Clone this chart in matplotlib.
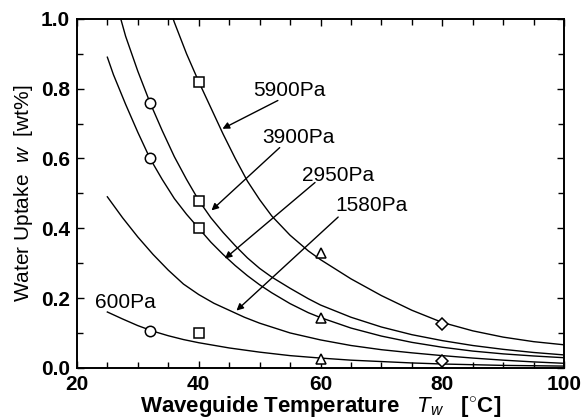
import matplotlib
matplotlib.use("Agg")
import matplotlib.pyplot as plt
from matplotlib.ticker import MultipleLocator

plt.rcParams["font.family"] = ["Liberation Sans", "DejaVu Sans"]
plt.rcParams["mathtext.fontset"] = "custom"
plt.rcParams["mathtext.it"] = "Liberation Sans:italic"
plt.rcParams["mathtext.rm"] = "Liberation Sans"

# fitted curves (T in degC, w in wt%)
temp_5900 = [35.8, 36, 38, 40, 42, 44, 46, 48, 50, 52, 55, 58, 60, 65, 70, 75, 80, 85, 90, 95, 100]
w_5900 = [1.0, 0.99, 0.90, 0.82, 0.745, 0.67, 0.60, 0.535, 0.482, 0.435, 0.38, 0.335, 0.31,
          0.255, 0.207, 0.165, 0.130, 0.106, 0.088, 0.075, 0.066]

temp_3900 = [27.2, 28, 30, 32, 34, 36, 38, 40, 42, 44, 46, 48, 50, 52, 55, 58, 60, 65, 70, 75,
             80, 85, 90, 95, 100]
w_3900 = [1.0, 0.95, 0.85, 0.76, 0.68, 0.605, 0.54, 0.48, 0.43, 0.388, 0.35, 0.315, 0.285, 0.26,
          0.228, 0.198, 0.18, 0.145, 0.117, 0.095, 0.078, 0.064, 0.053, 0.044, 0.037]

temp_2950 = [25, 26, 28, 30, 32, 34, 36, 38, 40, 42, 44, 46, 48, 50, 52, 55, 58, 60, 65, 70, 75,
             80, 85, 90, 95, 100]
w_2950 = [0.89, 0.84, 0.755, 0.675, 0.60, 0.54, 0.485, 0.44, 0.40, 0.36, 0.325, 0.293, 0.264,
          0.238, 0.215, 0.184, 0.158, 0.144, 0.114, 0.091, 0.073, 0.059, 0.048, 0.040, 0.034, 0.029]

temp_1580 = [25, 27.5, 30, 32.5, 35, 37.5, 40, 42.5, 45, 47.5, 50, 55, 60, 65, 70, 75, 80, 85, 90,
             95, 100]
w_1580 = [0.49, 0.43, 0.375, 0.325, 0.28, 0.24, 0.21, 0.185, 0.165, 0.145, 0.128, 0.100, 0.080,
          0.064, 0.052, 0.043, 0.035, 0.028, 0.022, 0.017, 0.013]

temp_600 = [25, 27.5, 30, 32.5, 35, 37.5, 40, 45, 50, 55, 60, 65, 70, 75, 80, 85, 90, 95, 100]
w_600 = [0.16, 0.14, 0.121, 0.105, 0.092, 0.081, 0.072, 0.057, 0.045, 0.035, 0.028, 0.022, 0.018,
         0.014, 0.011, 0.009, 0.007, 0.006, 0.005]

# measured points
circle_t = [32, 32, 32]
circle_w = [0.76, 0.60, 0.105]
square_t = [40, 40, 40, 40]
square_w = [0.82, 0.478, 0.40, 0.10]
triangle_t = [60, 60, 60]
triangle_w = [0.33, 0.144, 0.025]
diamond_t = [80, 80]
diamond_w = [0.126, 0.02]

fig = plt.figure(figsize=(5.87, 4.18), dpi=100)
ax = fig.add_axes([0.131, 0.12, 0.83, 0.835])

for t, w in [(temp_5900, w_5900), (temp_3900, w_3900), (temp_2950, w_2950),
             (temp_1580, w_1580), (temp_600, w_600)]:
    ax.plot(t, w, color="black", lw=1.0)

mk = dict(ls="none", mfc="white", mec="black", mew=1.1, zorder=3)
ax.plot(circle_t, circle_w, marker="o", ms=7.5, **mk)
ax.plot(square_t, square_w, marker="s", ms=7, **mk)
ax.plot(triangle_t, triangle_w, marker="^", ms=7.5, **mk)
ax.plot(diamond_t, diamond_w, marker="D", ms=6.5, **mk)

arrow = dict(arrowstyle="-|>", color="black", lw=1.0, mutation_scale=10, shrinkA=0, shrinkB=0)
ax.annotate("", xy=(43.9, 0.685), xytext=(53.0, 0.766), arrowprops=arrow)
ax.annotate("", xy=(42.1, 0.451), xytext=(53.3, 0.631), arrowprops=arrow)
ax.annotate("", xy=(44.3, 0.313), xytext=(59.1, 0.531), arrowprops=arrow)
ax.annotate("", xy=(46.2, 0.164), xytext=(62.9, 0.432), arrowprops=arrow)

lab = dict(fontsize=15, ha="left", va="center")
ax.text(48.9, 0.794, "5900Pa", **lab)
ax.text(50.4, 0.660, "3900Pa", **lab)
ax.text(56.9, 0.551, "2950Pa", **lab)
ax.text(62.4, 0.466, "1580Pa", **lab)
ax.text(23.0, 0.186, "600Pa", **lab)

ax.set_xlim(20, 100)
ax.set_ylim(0, 1.0)
ax.xaxis.set_major_locator(MultipleLocator(20))
ax.xaxis.set_minor_locator(MultipleLocator(5))
ax.yaxis.set_major_locator(MultipleLocator(0.2))
ax.yaxis.set_minor_locator(MultipleLocator(0.1))
ax.yaxis.set_major_formatter(plt.FuncFormatter(lambda v, p: f"{v:.1f}"))
ax.tick_params(which="both", direction="in", top=True, right=True, width=1.0)
ax.tick_params(which="major", length=5, labelsize=15, pad=5)
ax.tick_params(which="minor", length=4)
for lbl in ax.get_xticklabels() + ax.get_yticklabels():
    lbl.set_fontweight("bold")
for s in ax.spines.values():
    s.set_linewidth(1.4)

ax.set_xlabel(r"Waveguide Temperature   $T_w$   [$^{\circ}$C]", fontsize=16, fontweight="bold",
              labelpad=0)
ax.set_ylabel(r"Water Uptake  $w$  [wt%]", fontsize=15, labelpad=4)

fig.savefig("out.png", dpi=100)
